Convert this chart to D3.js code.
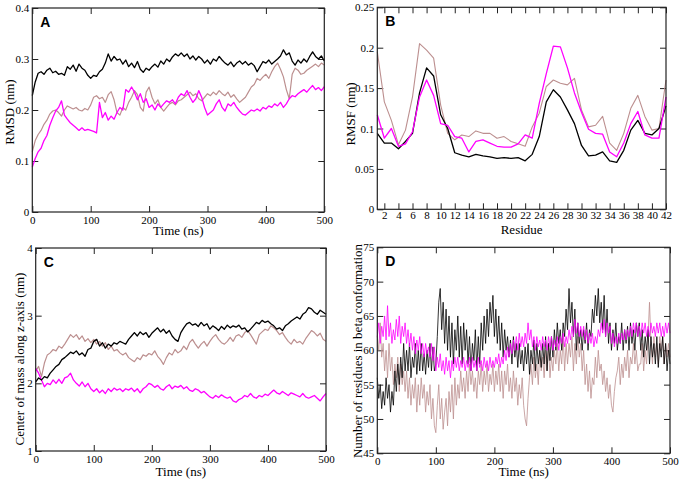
<!DOCTYPE html>
<html>
<head>
<meta charset="utf-8">
<script src="https://cdn.jsdelivr.net/npm/d3@7"></script>
<style>
body { margin: 0; background: #fff; }
</style>
</head>
<body>
<svg id="fig" width="681" height="480"></svg>
<script>
// sampling grids
const timeSteps = d3.range(0, 501, 5);
const betaTime = d3.range(0, 500.1, 2.5);
const residues = d3.range(1, 43);

// tick labels
const ticksTime = [0, 100, 200, 300, 400, 500];
const ticksRmsd = [0, 0.1, 0.2, 0.3, 0.4];
const ticksRmsf = [0, 0.05, 0.1, 0.15, 0.2, 0.25];
const ticksResidue = [2, 4, 6, 8, 10, 12, 14, 16, 18, 20, 22, 24, 26, 28, 30, 32, 34, 36, 38, 40, 42];
const ticksCom = [1, 2, 3, 4];
const ticksBeta = [45, 50, 55, 60, 65, 70, 75];

// A: RMSD (nm), every 5 ns
const rmsdBlack = [0.228,0.255,0.272,0.275,0.270,0.278,0.282,0.273,0.276,0.270,0.272,0.268,0.285,0.280,0.288,0.276,0.290,0.282,0.278,0.268,
  0.262,0.268,0.266,0.275,0.280,0.292,0.310,0.296,0.305,0.298,0.300,0.290,0.298,0.285,0.292,0.283,0.295,0.280,0.274,0.282,
  0.278,0.285,0.290,0.284,0.296,0.290,0.300,0.295,0.304,0.310,0.306,0.312,0.305,0.310,0.300,0.306,0.298,0.305,0.300,0.292,
  0.298,0.290,0.300,0.296,0.305,0.298,0.292,0.288,0.294,0.285,0.292,0.296,0.290,0.295,0.288,0.292,0.287,0.275,0.285,0.295,
  0.292,0.298,0.290,0.295,0.300,0.306,0.318,0.308,0.312,0.296,0.288,0.298,0.292,0.300,0.294,0.305,0.314,0.305,0.300,0.306,0.296];
const rmsdMagenta = [0.088,0.105,0.118,0.125,0.140,0.150,0.170,0.185,0.198,0.205,0.218,0.190,0.182,0.175,0.170,0.165,0.160,0.165,0.160,0.162,
  0.160,0.158,0.155,0.215,0.185,0.195,0.180,0.188,0.182,0.195,0.205,0.200,0.240,0.235,0.245,0.235,0.220,0.232,0.215,0.222,
  0.205,0.210,0.200,0.212,0.205,0.212,0.218,0.215,0.220,0.212,0.225,0.232,0.228,0.238,0.225,0.215,0.222,0.238,0.225,0.205,
  0.190,0.195,0.200,0.212,0.220,0.205,0.198,0.212,0.208,0.215,0.205,0.198,0.192,0.190,0.195,0.200,0.198,0.202,0.198,0.205,
  0.202,0.208,0.205,0.212,0.208,0.215,0.205,0.212,0.222,0.228,0.226,0.232,0.236,0.240,0.235,0.242,0.248,0.240,0.244,0.238,0.246];
const rmsdBrown = [0.118,0.140,0.152,0.160,0.172,0.180,0.192,0.198,0.200,0.195,0.188,0.200,0.208,0.205,0.202,0.205,0.200,0.198,0.203,0.200,
  0.210,0.225,0.228,0.222,0.225,0.215,0.230,0.236,0.220,0.195,0.190,0.205,0.200,0.215,0.225,0.238,0.230,0.205,0.198,0.235,
  0.245,0.225,0.212,0.220,0.205,0.198,0.205,0.212,0.215,0.210,0.218,0.220,0.225,0.230,0.235,0.228,0.232,0.222,0.218,0.225,
  0.232,0.228,0.235,0.230,0.238,0.232,0.228,0.235,0.225,0.230,0.222,0.215,0.220,0.225,0.235,0.245,0.250,0.262,0.258,0.265,
  0.270,0.262,0.275,0.285,0.292,0.280,0.265,0.240,0.222,0.270,0.282,0.278,0.270,0.272,0.278,0.282,0.286,0.290,0.285,0.292,0.288];

// B: RMSF (nm) per residue
const rmsfBlack = [0.094,0.082,0.082,0.075,0.084,0.094,0.144,0.175,0.165,0.117,0.100,0.070,0.067,0.065,0.068,0.066,0.065,0.063,0.064,0.063,0.064,
  0.060,0.068,0.090,0.133,0.148,0.139,0.123,0.106,0.079,0.066,0.067,0.071,0.060,0.058,0.073,0.098,0.110,0.094,0.092,0.100,0.128];
const rmsfMagenta = [0.117,0.088,0.100,0.078,0.081,0.096,0.139,0.160,0.141,0.106,0.104,0.090,0.088,0.071,0.084,0.086,0.082,0.078,0.077,0.077,0.081,
  0.092,0.088,0.131,0.168,0.202,0.201,0.175,0.144,0.120,0.099,0.094,0.093,0.071,0.065,0.082,0.106,0.121,0.092,0.088,0.088,0.139];
const rmsfBrown = [0.195,0.133,0.110,0.080,0.098,0.139,0.205,0.197,0.187,0.129,0.094,0.086,0.092,0.090,0.097,0.094,0.094,0.088,0.090,0.084,0.081,
  0.078,0.102,0.119,0.152,0.160,0.156,0.154,0.162,0.123,0.102,0.104,0.115,0.082,0.073,0.094,0.125,0.141,0.115,0.098,0.100,0.160];

// C: centre of mass along z (nm), every 5 ns
const comBlack = [2.02,2.08,2.05,2.10,2.08,2.15,2.20,2.25,2.28,2.35,2.38,2.42,2.46,2.44,2.48,2.42,2.45,2.40,2.50,2.52,
  2.62,2.65,2.55,2.60,2.52,2.58,2.55,2.60,2.58,2.62,2.60,2.58,2.65,2.70,2.75,2.70,2.76,2.72,2.75,2.68,
  2.74,2.78,2.82,2.76,2.80,2.74,2.78,2.70,2.65,2.62,2.75,2.82,2.88,2.90,2.86,2.88,2.84,2.90,2.85,2.88,
  2.80,2.85,2.82,2.78,2.84,2.80,2.86,2.82,2.85,2.83,2.86,2.80,2.82,2.76,2.80,2.85,2.90,2.88,2.93,2.90,
  2.92,2.88,2.85,2.80,2.82,2.78,2.85,2.88,2.92,2.95,2.98,2.95,3.02,3.05,3.12,3.10,3.05,3.02,3.08,3.05,3.02];
const comBrown = [2.18,2.25,2.10,2.30,2.42,2.45,2.50,2.48,2.55,2.52,2.58,2.65,2.72,2.68,2.72,2.65,2.70,2.62,2.66,2.60,
  2.65,2.58,2.62,2.55,2.60,2.50,2.55,2.48,2.50,2.45,2.42,2.45,2.38,2.35,2.32,2.38,2.35,2.42,2.40,2.44,
  2.42,2.48,2.40,2.35,2.28,2.38,2.45,2.42,2.50,2.45,2.48,2.55,2.50,2.60,2.65,2.58,2.52,2.58,2.62,2.55,
  2.62,2.68,2.72,2.65,2.60,2.58,2.62,2.68,2.62,2.70,2.72,2.68,2.75,2.78,2.72,2.65,2.58,2.72,2.76,2.80,
  2.78,2.85,2.82,2.78,2.72,2.75,2.68,2.62,2.58,2.65,2.60,2.62,2.58,2.66,2.72,2.78,2.75,2.70,2.74,2.65,2.62];
const comMagenta = [2.22,2.15,2.05,1.95,2.00,1.98,2.05,2.00,2.06,2.00,2.08,2.10,2.15,2.05,2.00,1.96,2.02,1.95,2.00,1.92,
  1.88,1.92,1.86,1.90,1.85,1.92,1.88,1.93,1.90,1.92,1.88,1.92,1.90,1.93,1.88,1.92,1.86,1.92,1.95,2.00,
  1.98,1.94,1.97,1.92,1.90,1.95,1.98,1.92,1.96,1.94,1.97,1.92,1.95,1.90,1.88,1.92,1.90,1.86,1.88,1.84,
  1.80,1.78,1.82,1.79,1.83,1.80,1.78,1.80,1.74,1.72,1.76,1.78,1.82,1.80,1.85,1.80,1.78,1.82,1.80,1.84,
  1.82,1.86,1.90,1.86,1.84,1.88,1.85,1.82,1.86,1.84,1.82,1.80,1.85,1.80,1.78,1.80,1.82,1.78,1.74,1.80,1.85];

// D: residues in beta conformation, every 2.5 ns
const betaBlack = [
  56,53,55,51.5,54, 52,56,53,55,51, 54,52,57,54,58, 55,59,56,61,57,
  60,57,61,56,59, 57.5,61,56.5,60,57, 61,57,59.5,56.5,60, 57.5,61,57,60.5,57,
  58,62,67,69,63, 67,61,66,60,65, 59,64,58,63,60, 65,59,63.5,58,64,
  60,63,58,62,57, 61,58.5,63,57,62, 58,64,60,65,61, 66,62,67,64,68,
  62,66,61,65,60, 64,59,63,60,62, 59,61.5,58,62,59, 61,57.5,61,58,60,
  57,60.5,58,61,56.5, 60,58,61.5,57,61, 58,60,57.5,61,58, 62,57,61,58.5,62,
  59,63,60,64,61, 63,60,64,62,66, 63,69,64,67,62, 66,60,64,61,63,
  60,63,61,64,60, 63,62,66,64,68, 65,69,64,67,63, 68,62,66,61,64,
  60,63,61,64,60, 62,61,64,60,63, 61,63.5,60,64,61, 63,60,64,62,64,
  60,63,59,62,60, 63,58,62,59,61, 58,62,57.5,61,59, 62,58,61,57,60,
  58];
const betaMagenta = [
  62,64,61,63.5,62, 65,61.5,66.5,62,64, 61,63,61.5,64.5,62, 65,61,63.5,62,64,
  61,63,60.5,62.5,60, 62,59.5,61.5,60,62, 59.5,61,59,61,59.5, 60.5,59,61,58.5,60.5,
  57,59,57.5,59.5,57, 58.5,56.5,59,57,58.5, 56,58.5,57,59,57.5, 59,57,58.5,57.5,59,
  57,58.5,57.5,59,57, 59,57.5,58.5,57,59, 57.5,58.5,57,59,57.5, 58.5,57,59,57.5,58.5,
  57.5,59,58,59.5,57.5, 59,58,60,58.5,60.5, 59,61,59.5,61.5,60, 62,60,62.5,60.5,62,
  60.5,62.5,61,64,61.5, 63,60.5,62,60,62, 60.5,61.5,60,62,60.5, 61.5,60,62,60.5,62,
  60,61.5,60.5,62,60, 62,61,62.5,60.5,62, 61,63,61.5,63.5,62, 64.5,62.5,64,62,63.5,
  62,63.5,61.5,63,61, 62.5,61,62.5,60.5,62, 61,63,62,64,62.5, 64.5,62,64,62.5,63.5,
  61,62.5,60.5,62,61, 62.5,61,62.5,61.5,63, 61.5,63,62,63.5,62, 64,62.5,64,62,63.5,
  62,64,62.5,64,62, 63.5,62,64,62.5,63.5, 62,64,62.5,64,62, 63.5,62,64,62.5,64,
  62.5];
const betaBrown = [
  62,60,64,59,61, 57,60,56,61,57, 59,55,58,56,59, 54,58,55,57,54,
  57,53,56,52,55, 53,56,51,55,52, 56,53,55,51,54, 52,55,50,53,49,
  48,52,55,50,53, 48.5,51,53,49,54, 51,55,50,56,52, 55,53,57,54,56,
  53,57,54,58,55, 57,54,56,53,57, 55,58,54,57,55, 58,54,56.5,55,58,
  54,57,55,58,54, 57,53,57,55,58, 54,56,53,57,54, 56,52,55,53,56,
  52,50,49,53,56, 58,55,59,56,58, 55,60,57,59,56, 60,57,61,56,59,
  57,60,58,61,57, 60,58,62,57,61, 58,61,59,62,57, 61,58,62,59,61,
  57,60,55,58,54, 57,53,56,55,59, 56,60,57,58,55, 57,54,56,53,55,
  52,51,54,56,57, 59,55,58,56,59, 57,60,56,59,58, 61,58,60,57,58,
  58,61,57,60,58, 62,67,61,58,62, 59,61,58,62,60, 62,58,61,59,61,
  59];

const BLACK = "#000000", MAGENTA = "#ff00ff", BROWN = "#bc8f8f";
const SERIF = "'Liberation Serif', 'Times New Roman', serif";
const SANS = "'Liberation Sans', Arial, sans-serif";

const svg = d3.select("#fig");
svg.append("rect").attr("width", 681).attr("height", 480).attr("fill", "#fff");

function panel(opt) {
  const x = d3.scaleLinear().domain(opt.xDomain).range([opt.left, opt.right]);
  const y = d3.scaleLinear().domain(opt.yDomain).range([opt.bottom, opt.top]);
  const g = svg.append("g");
  const fmt = d => String(d);

  const axes = [
    g.append("g").attr("transform", "translate(0," + opt.bottom + ")")
      .call(d3.axisBottom(x).tickValues(opt.xTicks).tickFormat(fmt).tickSizeInner(-6).tickSizeOuter(0).tickPadding(opt.xPad || 4)),
    g.append("g").attr("transform", "translate(0," + opt.top + ")")
      .call(d3.axisTop(x).tickValues(opt.xTicks).tickFormat("").tickSizeInner(-6).tickSizeOuter(0)),
    g.append("g").attr("transform", "translate(" + opt.left + ",0)")
      .call(d3.axisLeft(y).tickValues(opt.yTicks).tickFormat(fmt).tickSizeInner(-6).tickSizeOuter(0).tickPadding(3)),
    g.append("g").attr("transform", "translate(" + opt.right + ",0)")
      .call(d3.axisRight(y).tickValues(opt.yTicks).tickFormat("").tickSizeInner(-6).tickSizeOuter(0))
  ];
  axes.forEach(a => a.attr("font-family", SERIF).attr("font-size", 11));
  g.selectAll(".domain").remove();
  g.selectAll(".tick line").attr("stroke", "#222");

  const line = d3.line().x((d, i) => x(opt.xs[i])).y(d => y(d));
  opt.series.forEach(s => {
    g.append("path")
      .datum(s.values)
      .attr("fill", "none")
      .attr("stroke", s.color)
      .attr("stroke-width", s.width)
      .attr("stroke-linejoin", "round")
      .attr("d", line);
  });

  g.append("rect")
    .attr("x", opt.left).attr("y", opt.top)
    .attr("width", opt.right - opt.left).attr("height", opt.bottom - opt.top)
    .attr("fill", "none").attr("stroke", "#222").attr("stroke-width", 1.2);

  g.append("text")
    .attr("x", opt.left + 8).attr("y", opt.top + 19)
    .attr("font-family", SANS).attr("font-weight", "bold").attr("font-size", 14)
    .text(opt.tag);

  g.append("text")
    .attr("x", (opt.left + opt.right) / 2).attr("y", opt.xTitleY)
    .attr("text-anchor", "middle")
    .attr("font-family", SERIF).attr("font-size", 13)
    .text(opt.xTitle);

  g.append("text")
    .attr("text-anchor", "middle")
    .attr("font-family", SERIF).attr("font-size", 13)
    .attr("transform", "translate(" + opt.yTitleX + "," + opt.yTitleY + ") rotate(-90)")
    .text(opt.yTitle);
}

panel({
  tag: "A", left: 32.3, right: 324.3, top: 8, bottom: 212,
  xDomain: [0, 500], yDomain: [0, 0.4], xTicks: ticksTime, yTicks: ticksRmsd, xs: timeSteps,
  xTitle: "Time (ns)", xTitleY: 235, yTitle: "RMSD (nm)", yTitleX: 14, yTitleY: 112,
  series: [
    {values: rmsdBrown, color: BROWN, width: 1.2},
    {values: rmsdMagenta, color: MAGENTA, width: 1.3},
    {values: rmsdBlack, color: BLACK, width: 1.3}
  ]
});

panel({
  tag: "B", left: 377.3, right: 666, top: 7.3, bottom: 209.3, xPad: 2,
  xDomain: [1, 42], yDomain: [0, 0.25], xTicks: ticksResidue, yTicks: ticksRmsf, xs: residues,
  xTitle: "Residue", xTitleY: 234, yTitle: "RMSF (nm)", yTitleX: 355, yTitleY: 114,
  series: [
    {values: rmsfBrown, color: BROWN, width: 1.1},
    {values: rmsfBlack, color: BLACK, width: 1.3},
    {values: rmsfMagenta, color: MAGENTA, width: 1.3}
  ]
});

panel({
  tag: "C", left: 35.7, right: 326, top: 248, bottom: 451,
  xDomain: [0, 500], yDomain: [1, 4], xTicks: ticksTime, yTicks: ticksCom, xs: timeSteps,
  xTitle: "Time (ns)", xTitleY: 476, yTitle: "Center of mass along z-axis (nm)", yTitleX: 24, yTitleY: 359,
  series: [
    {values: comBrown, color: BROWN, width: 1.2},
    {values: comMagenta, color: MAGENTA, width: 1.3},
    {values: comBlack, color: BLACK, width: 1.3}
  ]
});

panel({
  tag: "D", left: 377.3, right: 670, top: 247.3, bottom: 453.3,
  xDomain: [0, 500], yDomain: [45, 75], xTicks: ticksTime, yTicks: ticksBeta, xs: betaTime,
  xTitle: "Time (ns)", xTitleY: 476, yTitle: "Number of residues in beta conformation", yTitleX: 362, yTitleY: 351,
  series: [
    {values: betaBrown, color: BROWN, width: 0.8},
    {values: betaBlack, color: BLACK, width: 0.8},
    {values: betaMagenta, color: MAGENTA, width: 0.8}
  ]
});
</script>
</body>
</html>
